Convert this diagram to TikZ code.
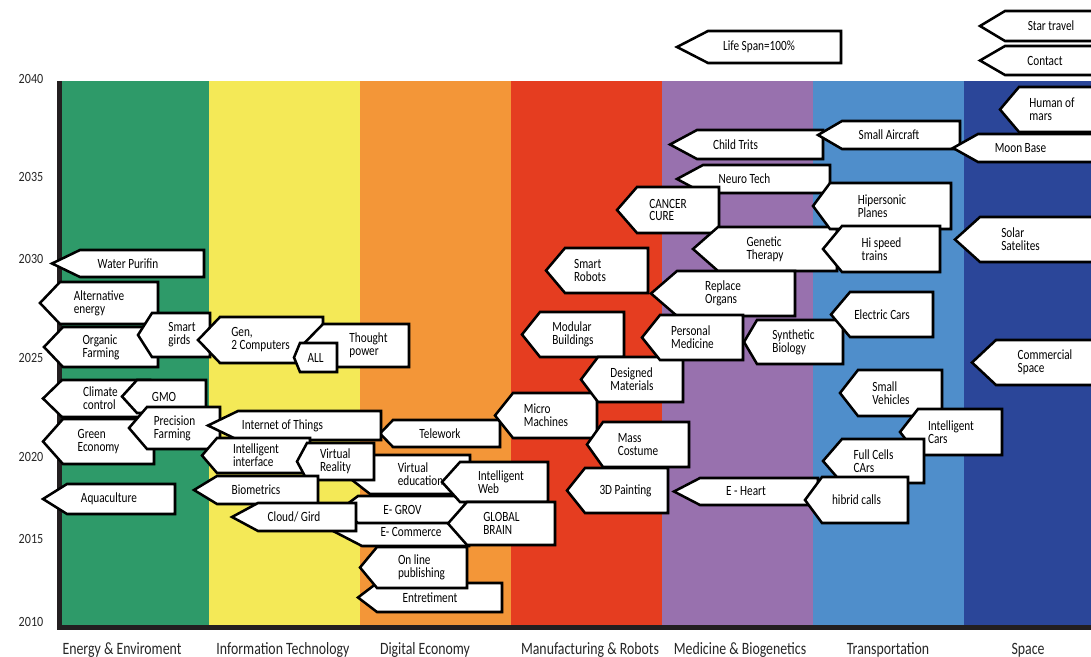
\documentclass[tikz,border=0pt]{standalone}
\usepackage{fontspec}
\setmainfont{Carlito}[FakeStretch=0.86]
\newfontfamily\narrowfont{Carlito}[FakeStretch=0.8]
\usepackage{tikz}
\usetikzlibrary{shadows}
\definecolor{energyColor}{HTML}{2E9A69}
\definecolor{infoColor}{HTML}{F4E957}
\definecolor{digitalColor}{HTML}{F39638}
\definecolor{manuColor}{HTML}{E53D20}
\definecolor{mediColor}{HTML}{9871AE}
\definecolor{transColor}{HTML}{4F8ECB}
\definecolor{spaceColor}{HTML}{2B4699}
\definecolor{axisColor}{HTML}{231F20}

% [text shift]{name}{tip x}{corner x}{right x}{top y}{bottom y}{text}
\newcommand{\techtag}[8][0]{%
  \draw[tagline] (#3,{(#6+#7)/2}) -- (#4,#6) -- (#5,#6) -- (#5,#7) -- (#4,#7) -- cycle;
  \node[tagtext] (#2) at ({(#3+#5)/2+#1},{(#6+#7)/2}) {#8};
}

\begin{document}
\begin{tikzpicture}[x=0.025cm, y=-0.025cm,
    tagline/.style={draw=black, fill=white, line width=1.8pt, line join=miter,
      drop shadow={shadow xshift=0.8pt, shadow yshift=-0.8pt, opacity=0.35, fill=black}},
    tagtext/.style={align=left, inner sep=0pt, font=\narrowfont\fontsize{10}{9.2}\selectfont},
    yearlabel/.style={font=\fontsize{10}{10}\selectfont, text=black!85},
    catlabel/.style={font=\narrowfont\fontsize{12.3}{10}\selectfont, text=black!85}]
    \clip (0,0) rectangle (1091,657);

    % Columns
    \fill[energyColor] (61,81) rectangle (209,625);
    \fill[infoColor] (209,81) rectangle (360,625);
    \fill[digitalColor] (360,81) rectangle (511,625);
    \fill[manuColor] (511,81) rectangle (662,625);
    \fill[mediColor] (662,81) rectangle (813,625);
    \fill[transColor] (813,81) rectangle (964,625);
    \fill[spaceColor] (964,81) rectangle (1091,625);

    % Axis
    \fill[axisColor] (57,81) rectangle (62,630);
    \fill[axisColor] (57,625) rectangle (1091,630);

    % Years
    \node[yearlabel] (y2040) at (31,79) {2040};
    \node[yearlabel] (y2035) at (31,177) {2035};
    \node[yearlabel] (y2030) at (31,259) {2030};
    \node[yearlabel] (y2025) at (31,358) {2025};
    \node[yearlabel] (y2020) at (31,457) {2020};
    \node[yearlabel] (y2015) at (31,539) {2015};
    \node[yearlabel] (y2010) at (31,622) {2010};

    % Categories
    \node[catlabel] (energy) at (122,650) {Energy \& Enviroment};
    \node[catlabel] (info) at (283,650) {Information Technology};
    \node[catlabel] (digital) at (425,650) {Digital Economy};
    \node[catlabel] (manu) at (590,650) {Manufacturing \& Robots};
    \node[catlabel] (medi) at (740,650) {Medicine \& Biogenetics};
    \node[catlabel] (trans) at (888,650) {Transportation};
    \node[catlabel] (space) at (1028,650) {Space};

    % Energy & Enviroment
    \techtag{water}{52}{80}{204}{250}{277}{Water Purifin}
    \techtag{altenergy}{40}{60}{158}{282}{324}{Alternative\\energy}
    \techtag{organic}{44}{63}{158}{327}{367}{Organic\\Farming}
    \techtag[4]{climate}{43}{62}{150}{380}{417}{Climate\\control}
    \techtag{gmo}{122}{137}{206}{380}{413}{GMO}
    \techtag{greeneco}{43}{63}{154}{419}{464}{Green\\Economy}
    \techtag{aqua}{43}{67}{175}{484}{514}{Aquaculture}
    \techtag[8]{smartgrid}{138}{152}{210}{313}{357}{Smart\\girds}
    \techtag{precision}{129}{147}{220}{407}{449}{Precision\\Farming}

    % Information Technology
    \techtag{gen}{198}{220}{323}{317}{363}{Gen,\\2 Computers}
    \techtag[13]{thought}{302}{323}{409}{324}{367}{Thought\\power}
    \techtag{all}{294}{300}{337}{343}{372}{ALL}
    \techtag{telework}{380}{393}{500}{420}{447}{Telework}
    \techtag[-12]{iot}{208}{238}{381}{411}{440}{Internet of Things}
    \techtag{interface}{202}{217}{310}{438}{473}{Intelligent\\interface}
    \techtag[13]{virtedu}{345}{370}{470}{455}{494}{Virtual\\education}
    \techtag{vr}{297}{307}{374}{443}{480}{Virtual\\Reality}
    \techtag{biometrics}{194}{217}{318}{476}{504}{Biometrics}
    \techtag[9]{ecommerce}{335}{362}{469}{518}{546}{E- Commerce}
    \techtag{egrov}{340}{358}{465}{496}{523}{E- GROV}
    \techtag{cloud}{232}{258}{356}{503}{531}{Cloud/ Gird}
    \techtag[6]{intweb}{442}{460}{548}{462}{502}{Intelligent\\Web}
    \techtag{brain}{448}{467}{555}{502}{545}{GLOBAL\\BRAIN}
    \techtag{entre}{358}{377}{502}{583}{612}{Entretiment}
    \techtag[8]{publish}{360}{377}{467}{547}{588}{On line\\publishing}

    % Manufacturing & Robots
    \techtag{micro}{495}{513}{597}{393}{438}{Micro\\Machines}
    \techtag[-7]{robots}{546}{565}{648}{248}{293}{Smart\\Robots}
    \techtag{modular}{522}{540}{624}{312}{357}{Modular\\Buildings}
    \techtag{designed}{581}{598}{683}{357}{402}{Designed\\Materials}
    \techtag{mass}{587}{603}{689}{422}{467}{Mass\\Costume}
    \techtag[8]{painting}{567}{585}{668}{468}{513}{3D Painting}

    % Medicine & Biogenetics
    \techtag{lifespan}{677}{708}{841}{31}{63}{Life Span=100\%}
    \techtag[-11]{child}{670}{697}{823}{130}{159}{Child Trits}
    \techtag[-9]{neuro}{677}{703}{830}{165}{193}{Neuro Tech}
    \techtag{cancer}{617}{637}{719}{187}{233}{CANCER\\CURE}
    \techtag{genetic}{693}{718}{837}{227}{271}{Genetic\\Therapy}
    \techtag{organs}{651}{677}{795}{271}{316}{Replace\\Organs}
    \techtag{personal}{642}{660}{743}{315}{360}{Personal\\Medicine}
    \techtag{synthetic}{744}{757}{843}{320}{364}{Synthetic\\Biology}
    \techtag{eheart}{674}{700}{818}{478}{505}{E - Heart}

    % Transportation
    \techtag{aircraft}{818}{842}{960}{121}{149}{Small Aircraft}
    \techtag{hipersonic}{813}{830}{951}{183}{229}{Hipersonic\\Planes}
    \techtag{trains}{823}{842}{940}{226}{272}{Hi speed\\trains}
    \techtag{electric}{831}{850}{933}{292}{337}{Electric Cars}
    \techtag{vehicles}{840}{858}{942}{370}{416}{Small\\Vehicles}
    \techtag{intcars}{900}{918}{1002}{409}{455}{Intelligent\\Cars}
    \techtag{fullcells}{823}{842}{924}{439}{483}{Full Cells\\CArs}
    \techtag{hibrid}{805}{822}{908}{477}{523}{hibrid calls}

    % Space
    \techtag{star}{980}{1005}{1122}{11}{41}{Star travel}
    \techtag{contact}{980}{1005}{1110}{46}{75}{Contact}
    \techtag{mars}{1000}{1019}{1104}{87}{132}{Human of\\mars}
    \techtag[-6]{moon}{953}{978}{1100}{134}{162}{Moon Base}
    \techtag[-7]{solar}{955}{980}{1100}{217}{262}{Solar\\Satelites}
    \techtag{commercial}{972}{996}{1118}{340}{385}{Commercial\\Space}
\end{tikzpicture}
\end{document}
